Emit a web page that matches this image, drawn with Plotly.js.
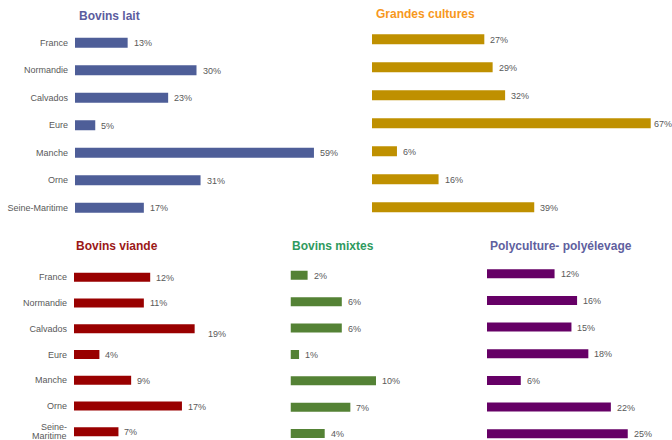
<!DOCTYPE html>
<html><head><meta charset="utf-8">
<script src="https://cdn.plot.ly/plotly-3.0.1.min.js"></script>
<style>html,body{margin:0;padding:0;background:#fff}#chart{width:672px;height:440px}</style>
</head><body><div id="chart"></div>
<script>
// ---- data ----
const categories = ["France","Normandie","Calvados","Eure","Manche","Orne","Seine-Maritime"];
const bovinsLait = [13,30,23,5,59,31,17];
const grandesCultures = [27,29,32,67,6,16,39];
const bovinsViande = [12,11,19,4,9,17,7];
const bovinsMixtes = [2,6,6,1,10,7,4];
const polyculture = [12,16,15,18,6,22,25];
const panelTitles = ["Bovins lait","Grandes cultures","Bovins viande","Bovins mixtes","Polyculture- polyélevage"];

// ---- layout / style (pixels) ----
const W = 672, H = 440;
const panels = [
  {values: bovinsLait, title: panelTitles[0], x0: 75, k: 4.05, xR: 345, c0: 42.7, c6: 207.7, bar: 10, tx: 76.5, ty: 15.5, titleColor: "#5b5c9e", barColor: "#4e5e98", ticks: true},
  {values: grandesCultures, title: panelTitles[1], x0: 372, k: 4.16, xR: 672, c0: 39.3, c6: 207.3, bar: 10, tx: 373.5, ty: 14, titleColor: "#f7981d", barColor: "#bf9000", ticks: false},
  {values: bovinsViande, title: panelTitles[2], x0: 74, k: 6.35, xR: 280, c0: 277.2, c6: 431.8, bar: 9, tx: 73.5, ty: 246.5, titleColor: "#9b1818", barColor: "#990000", ticks: true},
  {values: bovinsMixtes, title: panelTitles[3], x0: 290.5, k: 8.55, xR: 480, c0: 275.3, c6: 433.5, bar: 9, tx: 289.5, ty: 245.5, titleColor: "#2f9a5e", barColor: "#548235", ticks: false},
  {values: polyculture, title: panelTitles[4], x0: 487, k: 5.63, xR: 672, c0: 273.8, c6: 433.7, bar: 9, tx: 487.5, ty: 245.5, titleColor: "#60609e", barColor: "#660066", ticks: false}
];
const txtColor = "#595959";
const fontFam = "Liberation Sans, Arial, sans-serif";

const data = [];
const layout = {
  width: W, height: H,
  margin: {l: 0, r: 0, t: 0, b: 0},
  paper_bgcolor: "#fff", plot_bgcolor: "rgba(0,0,0,0)",
  showlegend: false, hovermode: false,
  font: {family: fontFam, size: 9, color: txtColor},
  annotations: []
};

panels.forEach((p, i) => {
  const n = i + 1;
  const xa = n === 1 ? "xaxis" : "xaxis" + n;
  const ya = n === 1 ? "yaxis" : "yaxis" + n;
  const xr = n === 1 ? "x" : "x" + n;
  const yr = n === 1 ? "y" : "y" + n;
  const s = (p.c6 - p.c0) / 6;
  let top = Math.max(0, p.c0 - s / 2), bottom = Math.min(H, p.c6 + s / 2);
  const rTop = -(p.c0 - top) / s;
  const rBot = 6 + (bottom - p.c6) / s;

  data.push({
    type: "bar", orientation: "h",
    x: p.values, y: categories,
    xaxis: xr, yaxis: yr,
    marker: {color: p.barColor, line: {width: 0}},
    width: p.bar / s,
    hoverinfo: "skip"
  });

  layout[xa] = {
    domain: [p.x0 / W, p.xR / W],
    range: [0, (p.xR - p.x0) / p.k],
    showgrid: false, zeroline: false, showline: false, showticklabels: false, ticks: "",
    anchor: yr, fixedrange: true
  };
  // the two-line "Seine-Maritime" of the lower-left panel is drawn as annotations below
  const ticktext = categories.map(c => (i === 2 && c === "Seine-Maritime") ? "" : c);
  layout[ya] = {
    domain: [1 - bottom / H, 1 - top / H],
    range: [rBot, rTop],
    type: "category",
    categoryorder: "array", categoryarray: categories,
    tickmode: "array", tickvals: categories, ticktext: ticktext,
    showgrid: false, zeroline: false, showline: false,
    showticklabels: p.ticks, ticks: "",
    ticklabelstandoff: 6,
    tickfont: {family: fontFam, size: 9, color: txtColor},
    anchor: xr, fixedrange: true
  };

  if (i === 2) {
    const parts = categories[6].split("-");
    [[parts[0] + "-", -4.5], [parts[1], 4.2]].forEach(([t, dy]) => {
      layout.annotations.push({
        xref: "paper", yref: yr, x: (p.x0 - 6) / W, y: categories[6],
        xanchor: "right", yanchor: "middle", yshift: -dy, xshift: 1,
        text: t, showarrow: false,
        font: {family: fontFam, size: 9, color: txtColor}
      });
    });
  }

  layout.annotations.push({
    xref: "paper", yref: "paper",
    x: p.tx / W, y: 1 - p.ty / H,
    xanchor: "left", yanchor: "middle",
    text: "<b>" + p.title + "</b>", showarrow: false,
    font: {family: fontFam, size: 12, color: p.titleColor}
  });

  p.values.forEach((v, j) => {
    let xs = 4, ys = 0;
    if (i === 2 && categories[j] === "Calvados") { xs = 11; ys = -5; }
    const barEnd = p.x0 + v * p.k;
    if (barEnd + xs + 20 > W) xs = W - 20 - barEnd;
    layout.annotations.push({
      xref: xr, yref: yr, x: v, y: categories[j],
      xanchor: "left", yanchor: "middle",
      xshift: xs, yshift: ys - 0.5,
      text: v + "%", showarrow: false,
      font: {family: fontFam, size: 9, color: txtColor}
    });
  });
});

Plotly.newPlot("chart", data, layout, {staticPlot: true, displayModeBar: false});
</script>
</body></html>
